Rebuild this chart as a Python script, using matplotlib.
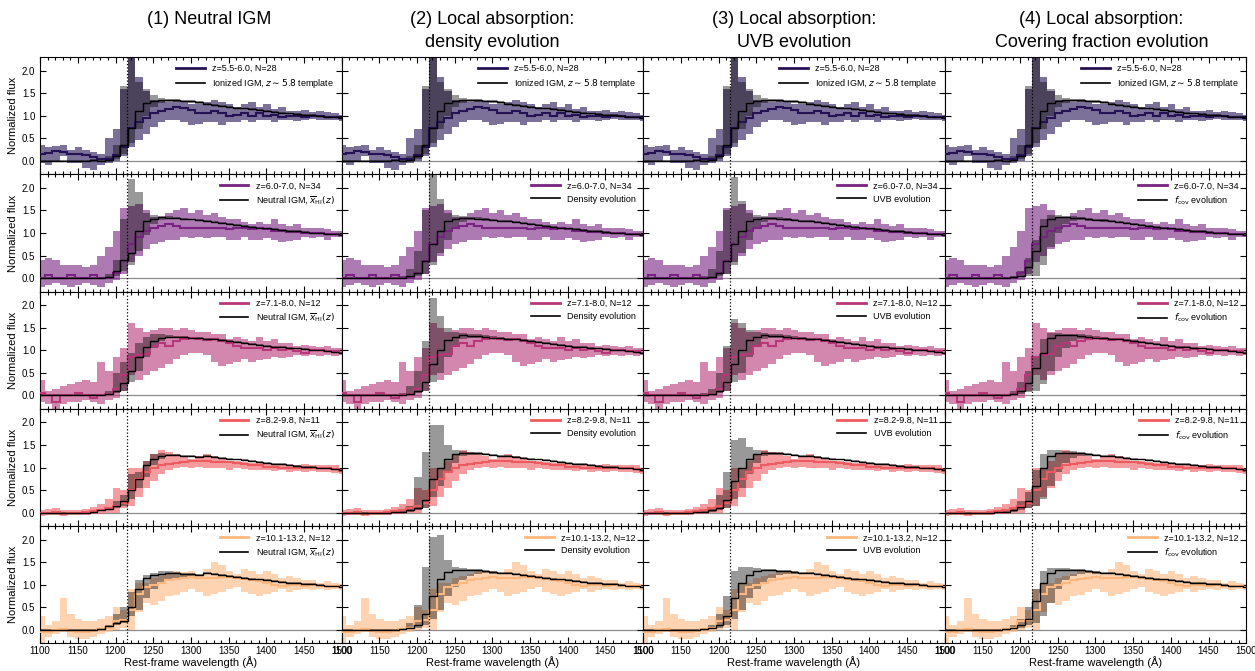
import numpy as np
import matplotlib.pyplot as plt
from matplotlib.lines import Line2D
from matplotlib.ticker import MultipleLocator

plt.rcParams['font.family'] = ['Liberation Sans', 'DejaVu Sans']
plt.rcParams['mathtext.fontset'] = 'dejavusans'

# 10 A bins, one edge sitting on Ly-alpha
edges = np.arange(1096, 1507, 10)
lya = 1215.67

col_titles = ['(1) Neutral IGM',
              '(2) Local absorption:\ndensity evolution',
              '(3) Local absorption:\nUVB evolution',
              '(4) Local absorption:\nCovering fraction evolution']
row_labels = ['z=5.5-6.0, N=28', 'z=6.0-7.0, N=34', 'z=7.1-8.0, N=12',
              'z=8.2-9.8, N=11', 'z=10.1-13.2, N=12']
template_label = r'Ionized IGM, $z\sim5.8$ template'
model_labels = [r'Neutral IGM, $\overline{x}_{\rm HI}(z)$', 'Density evolution',
                'UVB evolution', r'$f_{\rm cov}$ evolution']
row_cpos = [0.15, 0.35, 0.5, 0.65, 0.85]

# observed stacks (blue side 12 bins + red side 29 bins)
obs_med = [
    [0.15, 0.18, 0.22, 0.20, 0.15, 0.15, 0.12, 0.08, 0.05, 0.05, 0.12, 0.30] +
    [0.72, 0.85, 0.95, 1.05, 1.10, 1.15, 1.20, 1.18, 1.12, 1.05, 1.05, 1.10, 1.05, 1.00, 1.02,
     1.05, 1.00, 1.05, 1.00, 1.02, 0.98, 1.00, 1.00, 0.98, 1.00, 1.00, 0.98, 0.97, 0.95],
    [0.00, 0.07, 0.00, 0.00, 0.07, 0.00, 0.00, 0.07, 0.00, 0.00, 0.12, 0.38] +
    [0.75, 0.90, 1.05, 1.10, 1.15, 1.20, 1.15, 1.10, 1.12, 1.12, 1.10, 1.12, 1.10, 1.08, 1.10,
     1.10, 1.08, 1.10, 1.08, 1.05, 1.05, 1.02, 1.02, 1.00, 1.00, 1.00, 0.98, 0.98, 0.95],
    [0.05, 0.00, -0.15, 0.00, 0.00, 0.05, 0.00, -0.05, 0.00, 0.02, 0.15, 0.45] +
    [0.85, 0.90, 0.92, 1.10, 1.15, 1.10, 1.20, 1.25, 1.28, 1.25, 1.22, 1.25, 1.20, 1.15, 1.10,
     1.05, 1.05, 1.05, 1.00, 1.05, 1.00, 1.02, 0.98, 0.95, 1.00, 1.00, 0.98, 0.98, 0.95],
    [0.00, 0.00, 0.02, -0.02, 0.00, 0.00, 0.02, 0.03, 0.05, 0.10, 0.15, 0.22] +
    [0.50, 0.75, 0.90, 1.00, 1.05, 1.08, 1.10, 1.12, 1.14, 1.15, 1.15, 1.13, 1.12, 1.12, 1.10,
     1.08, 1.05, 1.05, 1.02, 1.02, 1.00, 1.00, 1.00, 1.00, 1.00, 0.98, 0.98, 0.97, 0.92],
    [-0.05, -0.05, 0.00, 0.02, -0.02, -0.05, -0.05, -0.02, 0.02, 0.05, 0.20, 0.22] +
    [0.45, 0.80, 0.95, 1.00, 1.05, 1.10, 1.12, 1.15, 1.18, 1.15, 1.15, 1.15, 1.18, 1.18, 1.15,
     1.12, 1.10, 1.08, 1.05, 1.00, 0.98, 1.00, 1.00, 0.98, 1.00, 0.98, 0.98, 0.97, 0.95],
]
obs_lo = [
    [-0.05, -0.10, 0.00, 0.10, -0.05, -0.05, -0.15, -0.20, -0.10, -0.05, 0.00, 0.10] +
    [0.30, 0.45, 0.60, 0.75, 0.85, 0.90, 0.90, 0.85, 0.80, 0.82, 0.85, 0.85, 0.80, 0.85, 0.85,
     0.90, 0.85, 0.90, 0.90, 0.85, 0.90, 0.90, 0.88, 0.90, 0.92, 0.90, 0.90, 0.90, 0.88],
    [-0.20, -0.15, -0.10, -0.15, -0.20, -0.15, -0.10, -0.15, -0.20, -0.10, -0.05, 0.10] +
    [0.35, 0.50, 0.65, 0.75, 0.80, 0.85, 0.85, 0.90, 0.88, 0.90, 0.88, 0.90, 0.92, 0.85, 0.85,
     0.90, 0.85, 0.85, 0.88, 0.85, 0.80, 0.82, 0.85, 0.90, 0.88, 0.90, 0.85, 0.90, 0.90],
    [-0.15, -0.20, -0.30, -0.20, -0.15, -0.15, -0.10, -0.15, -0.20, -0.10, -0.05, 0.10] +
    [0.45, 0.35, 0.45, 0.55, 0.60, 0.70, 0.80, 0.90, 0.95, 0.95, 0.90, 0.75, 0.65, 0.70, 0.75,
     0.80, 0.75, 0.78, 0.80, 0.85, 0.82, 0.85, 0.90, 0.88, 0.90, 0.88, 0.90, 0.88, 0.90],
    [-0.08, -0.05, -0.05, -0.08, -0.05, -0.05, -0.05, -0.02, -0.02, 0.00, 0.00, 0.10] +
    [0.15, 0.35, 0.55, 0.70, 0.85, 0.95, 1.00, 1.02, 1.00, 1.02, 1.00, 1.00, 0.98, 0.95, 0.98,
     0.97, 0.95, 0.95, 0.95, 0.92, 0.95, 0.90, 0.92, 0.90, 0.92, 0.90, 0.90, 0.88, 0.85],
    [-0.30, -0.15, -0.10, -0.05, -0.15, -0.20, -0.20, -0.15, -0.10, -0.05, 0.00, 0.05] +
    [0.00, 0.40, 0.60, 0.55, 0.65, 0.75, 0.78, 0.85, 0.90, 0.85, 0.75, 0.80, 0.85, 0.90, 0.95,
     0.85, 0.80, 0.75, 0.80, 0.85, 0.90, 0.85, 0.88, 0.90, 0.88, 0.90, 0.88, 0.90, 0.88],
]
obs_hi = [
    [0.35, 0.30, 0.32, 0.35, 0.25, 0.30, 0.25, 0.20, 0.15, 0.50, 0.70, 1.60] +
    [2.35, 1.85, 1.55, 1.35, 1.35, 1.30, 1.35, 1.30, 1.25, 1.25, 1.30, 1.35, 1.30, 1.25, 1.20,
     1.25, 1.30, 1.20, 1.25, 1.15, 1.20, 1.10, 1.10, 1.12, 1.08, 1.10, 1.08, 1.05, 1.02],
    [0.40, 0.45, 0.40, 0.30, 0.30, 0.30, 0.25, 0.30, 0.50, 0.70, 1.05, 1.55] +
    [1.60, 1.65, 1.50, 1.35, 1.35, 1.45, 1.50, 1.55, 1.45, 1.50, 1.40, 1.45, 1.35, 1.30, 1.30,
     1.25, 1.20, 1.25, 1.20, 1.30, 1.20, 1.15, 1.20, 1.10, 1.10, 1.12, 1.08, 1.05, 1.05],
    [0.35, 0.10, 0.15, 0.20, 0.25, 0.30, 0.35, 0.30, 0.75, 0.55, 0.85, 1.05] +
    [1.60, 1.50, 1.40, 1.45, 1.50, 1.50, 1.45, 1.50, 1.45, 1.40, 1.40, 1.35, 1.35, 1.25, 1.30,
     1.25, 1.20, 1.30, 1.20, 1.25, 1.15, 1.15, 1.10, 1.12, 1.10, 1.08, 1.10, 1.05, 1.05],
    [0.05, 0.08, 0.10, 0.05, 0.05, 0.05, 0.08, 0.12, 0.20, 0.30, 0.55, 0.50] +
    [1.00, 1.00, 1.15, 1.30, 1.40, 1.35, 1.30, 1.25, 1.20, 1.25, 1.30, 1.25, 1.20, 1.15, 1.15,
     1.12, 1.10, 1.12, 1.10, 1.08, 1.05, 1.05, 1.05, 1.08, 1.05, 1.05, 1.05, 1.05, 1.00],
    [0.30, 0.10, 0.20, 0.70, 0.35, 0.25, 0.20, 0.20, 0.25, 0.30, 0.50, 0.45] +
    [0.90, 1.05, 1.05, 1.15, 1.20, 1.25, 1.30, 1.28, 1.30, 1.25, 1.35, 1.50, 1.45, 1.30, 1.25,
     1.35, 1.30, 1.25, 1.30, 1.25, 1.15, 1.20, 1.15, 1.10, 1.10, 1.05, 1.08, 1.05, 1.02],
]

# model spectra: shared blue side (1096-1176), per-panel break region (1176-1316), shared tail
mod_blue_med = [0.00, 0.00, 0.00, 0.00, 0.00, 0.00, 0.00, 0.01]
mod_blue_lo = [-0.02, -0.02, -0.02, -0.02, -0.02, -0.02, -0.02, -0.01]
mod_blue_hi = [0.02, 0.02, 0.02, 0.02, 0.02, 0.02, 0.02, 0.03]

mod_tail_med = [1.26, 1.24, 1.22, 1.20, 1.18, 1.16, 1.14, 1.12, 1.10, 1.08,
                1.07, 1.05, 1.04, 1.02, 1.01, 1.00, 0.98, 0.97, 0.95]
mod_tail_lo = [1.24, 1.22, 1.20, 1.18, 1.16, 1.14, 1.12, 1.10, 1.08, 1.06,
               1.05, 1.03, 1.02, 1.00, 0.99, 0.98, 0.96, 0.95, 0.93]
mod_tail_hi = [1.28, 1.26, 1.24, 1.22, 1.20, 1.18, 1.16, 1.14, 1.12, 1.10,
               1.09, 1.07, 1.06, 1.04, 1.03, 1.02, 1.00, 0.99, 0.97]

tmpl_med = [0.00, 0.02, 0.10, 0.35, 0.72, 1.10, 1.28, 1.33, 1.35, 1.35, 1.34, 1.33, 1.32, 1.30]
tmpl_lo = [0.00, 0.00, 0.05, 0.15, 0.40, 0.70, 1.00, 1.20, 1.28, 1.30, 1.30, 1.30, 1.29, 1.27]
tmpl_hi = [0.02, 0.10, 0.35, 1.65, 2.35, 1.75, 1.60, 1.45, 1.40, 1.38, 1.37, 1.35, 1.34, 1.32]

# rows 2-5, columns 1-4
brk_med = [
    [[0.00, 0.02, 0.15, 0.40, 0.55, 1.05, 1.27, 1.32, 1.35, 1.34, 1.33, 1.32, 1.30, 1.29],
     [0.00, 0.05, 0.12, 0.38, 0.75, 1.05, 1.27, 1.32, 1.34, 1.33, 1.32, 1.30, 1.28, 1.27],
     [0.00, 0.03, 0.12, 0.38, 0.75, 1.05, 1.27, 1.32, 1.34, 1.33, 1.32, 1.30, 1.28, 1.27],
     [0.00, 0.02, 0.05, 0.25, 0.60, 1.15, 1.30, 1.35, 1.35, 1.34, 1.33, 1.31, 1.29, 1.28]],
    [[0.00, 0.03, 0.10, 0.28, 0.55, 0.85, 1.08, 1.20, 1.28, 1.30, 1.30, 1.30, 1.28, 1.27],
     [0.00, 0.03, 0.10, 0.30, 0.70, 1.00, 1.22, 1.30, 1.33, 1.32, 1.31, 1.30, 1.28, 1.27],
     [0.00, 0.03, 0.10, 0.30, 0.70, 1.00, 1.22, 1.30, 1.33, 1.32, 1.31, 1.30, 1.28, 1.27],
     [0.00, 0.03, 0.10, 0.28, 0.60, 0.95, 1.28, 1.33, 1.34, 1.33, 1.32, 1.30, 1.28, 1.27]],
    [[0.05, 0.08, 0.15, 0.25, 0.50, 0.75, 1.05, 1.18, 1.25, 1.28, 1.27, 1.26, 1.25, 1.24],
     [0.02, 0.05, 0.10, 0.28, 0.75, 1.00, 1.20, 1.30, 1.33, 1.33, 1.32, 1.30, 1.28, 1.26],
     [0.02, 0.05, 0.10, 0.28, 0.70, 1.00, 1.20, 1.30, 1.33, 1.33, 1.32, 1.30, 1.28, 1.26],
     [0.02, 0.05, 0.12, 0.25, 0.60, 1.00, 1.25, 1.32, 1.33, 1.33, 1.32, 1.30, 1.28, 1.26]],
    [[0.02, 0.08, 0.15, 0.20, 0.50, 0.90, 1.15, 1.22, 1.25, 1.27, 1.26, 1.25, 1.24, 1.22],
     [0.02, 0.05, 0.12, 0.35, 0.75, 1.13, 1.28, 1.32, 1.33, 1.33, 1.32, 1.30, 1.28, 1.27],
     [0.02, 0.05, 0.12, 0.30, 0.70, 1.05, 1.22, 1.30, 1.32, 1.32, 1.31, 1.30, 1.28, 1.27],
     [0.02, 0.05, 0.12, 0.25, 0.65, 1.05, 1.27, 1.32, 1.33, 1.33, 1.32, 1.30, 1.28, 1.26]],
]
brk_lo = [
    [[0.00, 0.00, 0.05, 0.15, 0.30, 0.60, 0.95, 1.20, 1.28, 1.30, 1.30, 1.29, 1.28, 1.27],
     [0.00, 0.00, 0.05, 0.10, 0.30, 0.55, 0.85, 1.10, 1.25, 1.28, 1.28, 1.27, 1.26, 1.25],
     [0.00, 0.00, 0.05, 0.10, 0.30, 0.55, 0.85, 1.10, 1.25, 1.28, 1.28, 1.27, 1.26, 1.25],
     [0.00, 0.00, 0.02, 0.05, 0.05, 0.30, 0.70, 1.00, 1.20, 1.27, 1.28, 1.27, 1.26, 1.25]],
    [[0.00, 0.00, 0.05, 0.10, 0.30, 0.55, 0.85, 1.05, 1.20, 1.27, 1.28, 1.28, 1.27, 1.26],
     [0.00, 0.00, 0.05, 0.10, 0.30, 0.50, 0.85, 1.10, 1.25, 1.28, 1.28, 1.27, 1.26, 1.25],
     [0.00, 0.00, 0.05, 0.10, 0.30, 0.50, 0.85, 1.10, 1.25, 1.28, 1.28, 1.27, 1.26, 1.25],
     [0.00, 0.00, 0.02, 0.08, 0.10, 0.25, 0.55, 0.85, 1.05, 1.20, 1.25, 1.26, 1.25, 1.24]],
    [[0.03, 0.05, 0.10, 0.15, 0.30, 0.55, 0.80, 1.05, 1.18, 1.25, 1.25, 1.24, 1.23, 1.22],
     [0.00, 0.02, 0.05, 0.10, 0.35, 0.60, 0.90, 1.10, 1.25, 1.28, 1.28, 1.27, 1.26, 1.24],
     [0.00, 0.02, 0.05, 0.10, 0.30, 0.55, 0.85, 1.10, 1.25, 1.28, 1.28, 1.27, 1.26, 1.24],
     [0.00, 0.02, 0.05, 0.10, 0.15, 0.30, 0.60, 0.90, 1.10, 1.22, 1.26, 1.26, 1.25, 1.23]],
    [[0.00, 0.05, 0.10, 0.15, 0.30, 0.45, 0.70, 0.90, 1.05, 1.10, 1.15, 1.18, 1.20, 1.20],
     [0.00, 0.02, 0.05, 0.10, 0.25, 0.45, 0.75, 0.95, 1.10, 1.20, 1.25, 1.26, 1.25, 1.24],
     [0.00, 0.02, 0.05, 0.10, 0.25, 0.45, 0.70, 0.90, 1.05, 1.15, 1.22, 1.25, 1.25, 1.24],
     [0.00, 0.02, 0.05, 0.10, 0.15, 0.30, 0.60, 0.90, 1.10, 1.20, 1.25, 1.26, 1.25, 1.23]],
]
brk_hi = [
    [[0.02, 0.10, 0.40, 1.30, 2.20, 1.90, 1.45, 1.40, 1.38, 1.37, 1.35, 1.34, 1.32, 1.31],
     [0.05, 0.20, 0.60, 1.50, 2.35, 1.75, 1.45, 1.40, 1.38, 1.36, 1.35, 1.33, 1.31, 1.29],
     [0.05, 0.20, 0.60, 1.50, 2.25, 1.70, 1.45, 1.40, 1.38, 1.36, 1.35, 1.33, 1.31, 1.29],
     [0.02, 0.05, 0.15, 0.45, 0.85, 1.30, 1.40, 1.40, 1.38, 1.37, 1.36, 1.34, 1.32, 1.30]],
    [[0.02, 0.10, 0.50, 0.75, 0.95, 1.15, 1.30, 1.35, 1.35, 1.33, 1.32, 1.32, 1.30, 1.29],
     [0.05, 0.20, 0.55, 1.20, 2.15, 1.75, 1.50, 1.40, 1.38, 1.36, 1.35, 1.33, 1.31, 1.29],
     [0.05, 0.15, 0.50, 1.10, 1.70, 1.60, 1.45, 1.40, 1.38, 1.36, 1.35, 1.33, 1.31, 1.29],
     [0.03, 0.10, 0.30, 0.55, 0.85, 1.25, 1.38, 1.38, 1.37, 1.36, 1.35, 1.33, 1.31, 1.29]],
    [[0.07, 0.12, 0.25, 0.40, 0.85, 0.90, 1.15, 1.30, 1.32, 1.30, 1.29, 1.28, 1.27, 1.26],
     [0.05, 0.15, 0.78, 1.35, 1.95, 1.95, 1.50, 1.38, 1.36, 1.35, 1.34, 1.32, 1.30, 1.28],
     [0.05, 0.12, 0.40, 0.90, 1.60, 1.65, 1.45, 1.38, 1.36, 1.35, 1.34, 1.32, 1.30, 1.28],
     [0.05, 0.10, 0.25, 0.45, 0.95, 1.30, 1.38, 1.38, 1.37, 1.36, 1.35, 1.33, 1.31, 1.28]],
    [[0.05, 0.12, 0.35, 0.50, 0.85, 1.10, 1.22, 1.27, 1.30, 1.30, 1.28, 1.27, 1.26, 1.24],
     [0.05, 0.15, 0.55, 1.40, 2.05, 2.10, 1.55, 1.40, 1.37, 1.36, 1.35, 1.33, 1.31, 1.29],
     [0.05, 0.12, 0.35, 0.75, 1.30, 1.40, 1.40, 1.38, 1.36, 1.35, 1.34, 1.32, 1.30, 1.28],
     [0.05, 0.10, 0.25, 0.50, 0.90, 1.30, 1.38, 1.38, 1.37, 1.36, 1.35, 1.33, 1.31, 1.28]],
]

colors = plt.cm.magma(row_cpos)

fig = plt.figure(figsize=(12.55, 6.71), dpi=100)
axes = fig.subplots(5, 4, sharex=True, sharey=True,
                    gridspec_kw=dict(wspace=0, hspace=0))
fig.subplots_adjust(left=0.032, right=0.993, top=0.915, bottom=0.041)

for i in range(5):
    for j in range(4):
        ax = axes[i, j]
        c = colors[i]
        if i == 0:
            m_med, m_lo, m_hi = tmpl_med, tmpl_lo, tmpl_hi
            mlabel = template_label
        else:
            m_med, m_lo, m_hi = brk_med[i-1][j], brk_lo[i-1][j], brk_hi[i-1][j]
            mlabel = model_labels[j]
        mod_med = mod_blue_med + m_med + mod_tail_med
        mod_lo = mod_blue_lo + m_lo + mod_tail_lo
        mod_hi = mod_blue_hi + m_hi + mod_tail_hi

        ax.axhline(0, color='0.55', lw=0.9, zorder=0)
        ax.stairs(obs_hi[i], edges, baseline=obs_lo[i], fill=True,
                  color=c, alpha=0.6, lw=0, zorder=1)
        ax.stairs(mod_hi, edges, baseline=mod_lo, fill=True,
                  color='k', alpha=0.4, lw=0, zorder=2)
        ax.stairs(obs_med[i], edges, color=c, lw=1.5, zorder=3)
        ax.stairs(mod_med, edges, color='k', lw=1.0, zorder=4)
        ax.axvline(lya, color='k', ls=':', lw=0.9, zorder=5)

        handles = [Line2D([], [], color=c, lw=2), Line2D([], [], color='k', lw=1.2)]
        ax.legend(handles, [row_labels[i], mlabel], loc='upper right', fontsize=6.5,
                  frameon=False, handlelength=3.2, labelspacing=0.45,
                  borderaxespad=0.4, handletextpad=0.8)

        ax.set_xlim(1100, 1500)
        ax.set_ylim(-0.3, 2.3)
        ax.xaxis.set_major_locator(MultipleLocator(50))
        ax.xaxis.set_minor_locator(MultipleLocator(10))
        ax.set_yticks([0.0, 0.5, 1.0, 1.5, 2.0])
        ax.tick_params(which='both', direction='in', top=True, right=True,
                       labelsize=7, width=0.8)
        ax.tick_params(which='major', length=4)
        ax.tick_params(which='minor', length=2)
        ax.tick_params(axis='x', pad=1.5)
        if j == 0:
            ax.set_ylabel('Normalized flux', fontsize=8, labelpad=3)
        if i == 4:
            ax.set_xlabel('Rest-frame wavelength (Å)', fontsize=8, labelpad=0.5)

title_x = [0.56, 0.5, 0.5, 0.52]
for j in range(4):
    pos = axes[0, j].get_position()
    fig.text(pos.x0 + title_x[j] * pos.width, 0.984, col_titles[j],
             ha='center', va='top', fontsize=13, linespacing=1.5)

fig.savefig('out.png', dpi=100)
